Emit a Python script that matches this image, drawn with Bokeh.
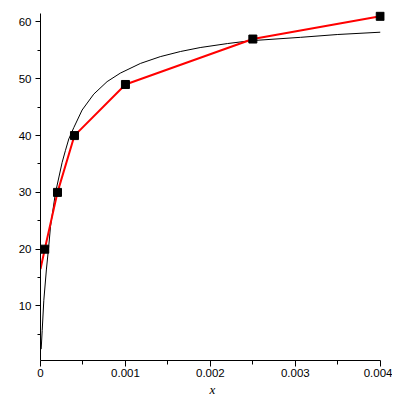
from bokeh.plotting import figure
from bokeh.models import FixedTicker, Range1d
from bokeh.embed import file_html
from bokeh.resources import INLINE

# data points (markers)
pts_x = [0.00005, 0.0002, 0.0004, 0.001, 0.0025, 0.004]
pts_y = [20, 30, 40, 49, 57, 61]

# red polyline (starts at the axis)
red_x = [0.0, 0.00005, 0.0002, 0.0004, 0.001, 0.0025, 0.004]
red_y = [16.5, 20, 30, 40, 49, 57, 61]

# black fitted curve
curve_x = [0.000008, 0.00002, 0.000039, 0.00007, 0.0000976, 0.000118, 0.000176,
           0.000255, 0.000294, 0.000333, 0.000392, 0.00049, 0.000627, 0.000784,
           0.00094, 0.001176, 0.00141, 0.001647, 0.00188, 0.0022, 0.00247,
           0.00306, 0.0035, 0.004]
curve_y = [2.4, 5.7, 11.0, 16.5, 20.6, 24.0, 29.9,
           35.3, 37.4, 39.4, 41.4, 44.5, 47.3, 49.5,
           51.0, 52.7, 53.9, 54.8, 55.5, 56.2, 56.7,
           57.3, 57.8, 58.2]

x_ticks = [0.0, 0.001, 0.002, 0.003, 0.004]
x_labels = ["0", "0.001", "0.002", "0.003", "0.004"]
y_ticks = [10, 20, 30, 40, 50, 60]
x_title = "x"

p = figure(width=392, height=400, output_backend="svg", toolbar_location=None,
           x_range=Range1d(0, 0.00405), y_range=Range1d(0.4, 62.2))
p.min_border_left = 40
p.min_border_right = 8
p.min_border_top = 9
p.min_border_bottom = 40
p.outline_line_color = None
p.grid.visible = False
p.background_fill_color = "white"
p.border_fill_color = "white"

p.line(curve_x, curve_y, line_color="black", line_width=1)
p.line(red_x, red_y, line_color="red", line_width=2)
p.scatter(pts_x, pts_y, marker="square", size=8, fill_color="black", line_color="black")

p.xaxis.ticker = FixedTicker(ticks=x_ticks, minor_ticks=[0.0005, 0.0015, 0.0025, 0.0035])
p.xaxis.major_label_overrides = {t: l for t, l in zip(x_ticks, x_labels)}
p.yaxis.ticker = FixedTicker(ticks=y_ticks, minor_ticks=[5, 15, 25, 35, 45, 55])
p.xaxis.bounds = (0, 0.004)
p.yaxis.bounds = (0.4, 61.5)

for ax in (p.xaxis, p.yaxis):
    ax.axis_line_color = "black"
    ax.axis_line_width = 1
    ax.major_tick_line_color = "black"
    ax.minor_tick_line_color = "black"
    ax.major_tick_in = 0
    ax.minor_tick_in = 0
    ax.major_label_text_font = "Liberation Sans"
    ax.major_label_text_font_size = "11.5px"
    ax.major_label_text_color = "black"

p.xaxis.major_tick_out = 6
p.xaxis.minor_tick_out = 4
p.yaxis.major_tick_out = 5
p.yaxis.minor_tick_out = 3
p.xaxis.major_label_standoff = 2
p.yaxis.major_label_standoff = 4

p.xaxis.axis_label = x_title
p.xaxis.axis_label_text_font = "Liberation Serif"
p.xaxis.axis_label_text_font_style = "italic"
p.xaxis.axis_label_text_font_size = "13px"
p.xaxis.axis_label_text_color = "black"
p.xaxis.axis_label_standoff = 2

open("out.html", "w").write(file_html(p, INLINE))
